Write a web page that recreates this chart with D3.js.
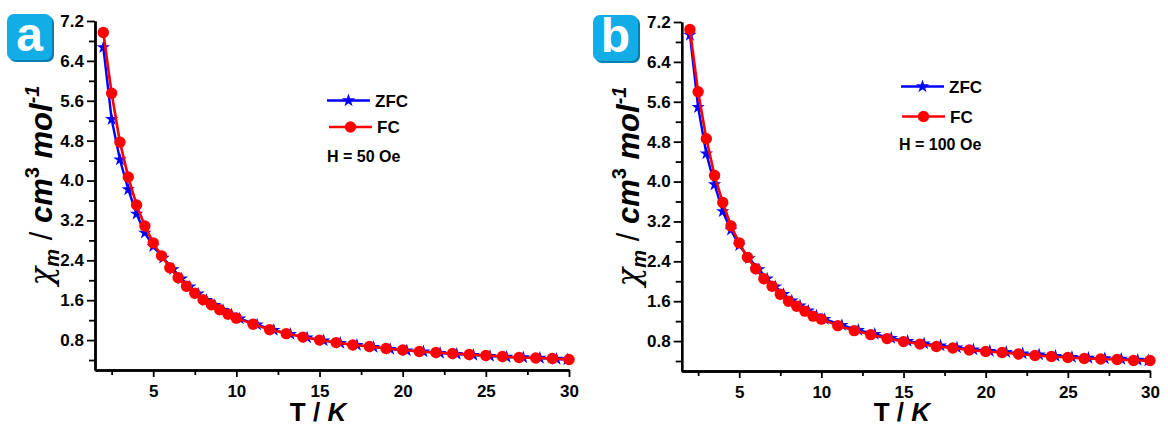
<!DOCTYPE html>
<html><head><meta charset="utf-8">
<script src="https://cdn.jsdelivr.net/npm/d3@7"></script>
<style>
html,body{margin:0;padding:0;background:#fff;}
svg{display:block;font-family:"Liberation Sans",Arial,sans-serif;}
.tick text{font-weight:bold;font-size:17px;fill:#000;}
</style></head><body>
<svg id="c" width="1168" height="426"></svg>
<script>
// ---- data ----
const temps = [2,2.5,3,3.5,4,4.5,5,5.5,6,6.5,7,7.5,8,8.5,9,9.5,10,11,12,13,14,15,16,17,18,19,20,21,22,23,24,25,26,27,28,29,30];
const tempsZFC = [2,2.5,3,3.5,4,4.5,5,5.6,6.2,6.7,7.2,7.7,8.2,8.7,9.2,9.7,10.2,11.25,12.25,13.25,14.25,15.25,16.25,17.25,18.25,19.25,20.25,21.25,22.25,23.25,24.25,25.25,26.25,27.25,28.25,29.25,29.9];
const fcA = [6.97,5.75,4.77,4.07,3.51,3.09,2.75,2.49,2.25,2.05,1.88,1.74,1.61,1.51,1.41,1.32,1.24,1.12,1.01,0.93,0.86,0.80,0.75,0.70,0.67,0.63,0.60,0.57,0.55,0.53,0.51,0.49,0.47,0.45,0.44,0.43,0.41];
const zfcA = [6.67,5.23,4.42,3.82,3.33,2.95,2.68,2.45,2.22,2.03,1.87,1.73,1.60,1.50,1.40,1.31,1.23,1.11,1.00,0.92,0.85,0.79,0.74,0.70,0.66,0.62,0.59,0.57,0.54,0.52,0.50,0.48,0.46,0.45,0.44,0.42,0.41];
const fcB = [7.05,5.80,4.86,4.12,3.58,3.11,2.77,2.48,2.25,2.05,1.90,1.74,1.60,1.50,1.40,1.30,1.24,1.11,1.01,0.93,0.85,0.79,0.74,0.69,0.66,0.62,0.59,0.57,0.54,0.51,0.49,0.47,0.45,0.44,0.43,0.41,0.41];
const zfcB = [6.94,5.49,4.56,3.94,3.40,3.03,2.72,2.46,2.24,2.05,1.89,1.74,1.61,1.51,1.41,1.31,1.24,1.12,1.02,0.94,0.86,0.80,0.75,0.71,0.67,0.63,0.60,0.58,0.55,0.53,0.50,0.48,0.46,0.45,0.44,0.42,0.41];
const xMajor = [5,10,15,20,25,30];
const xMinor = [2.5,7.5,12.5,17.5,22.5,27.5];
const yMajor = [0.8,1.6,2.4,3.2,4.0,4.8,5.6,6.4,7.2];
const yMinor = [0.4,1.2,2.0,2.8,3.6,4.4,5.2,6.0,6.8];
const seriesNames = ["ZFC","FC"];
const panels = [
  {label:"a", field:"H = 50 Oe", fc:fcA, zfc:zfcA, x0:95, x1:569, y0:370, y1:21, badge:[7,14], leg:[327,100.5], legFC:[329,127], fieldPos:[327,161.5]},
  {label:"b", field:"H = 100 Oe", fc:fcB, zfc:zfcB, x0:681.7, x1:1150, y0:371, y1:22, badge:[593,15], leg:[901,86.5], legFC:[902,116.5], fieldPos:[899,150]}
];
const blue = "#0000ff", red = "#ff0000";
const svg = d3.select("#c");
const star = d3.symbol().type(d3.symbolStar).size(55);

panels.forEach(p => {
  const g = svg.append("g");
  const x = d3.scaleLinear().domain([1.5,30]).range([p.x0,p.x1]);
  const y = d3.scaleLinear().domain([0.2,7.2]).range([p.y0,p.y1]);

  // axes
  g.append("g").attr("transform",`translate(0,${p.y0})`)
    .call(d3.axisBottom(x).tickValues(xMajor).tickSize(7).tickPadding(8).tickSizeOuter(0).tickFormat(d3.format("d")));
  g.append("g").attr("transform",`translate(0,${p.y0})`)
    .call(d3.axisBottom(x).tickValues(xMinor).tickSize(5).tickSizeOuter(0).tickFormat(""));
  g.append("g").attr("transform",`translate(${p.x0},0)`)
    .call(d3.axisLeft(y).tickValues(yMajor).tickSize(8).tickPadding(3).tickSizeOuter(0).tickFormat(d3.format(".1f")));
  g.append("g").attr("transform",`translate(${p.x0},0)`)
    .call(d3.axisLeft(y).tickValues(yMinor).tickSize(6).tickSizeOuter(0).tickFormat(""));
  g.selectAll(".domain").attr("stroke","#000").attr("stroke-width",2.4);
  g.selectAll(".tick line").attr("stroke","#000").attr("stroke-width",1.8);

  const zData = tempsZFC.map((t,i)=>[t,p.zfc[i]]);
  const fData = temps.map((t,i)=>[t,p.fc[i]]);
  const line = d3.line().x(d=>x(d[0])).y(d=>y(d[1]));
  // ZFC
  g.append("path").datum(zData).attr("d",line).attr("fill","none").attr("stroke",blue).attr("stroke-width",2.4);
  g.selectAll(".st").data(zData).enter().append("path")
    .attr("d",star).attr("transform",d=>`translate(${x(d[0])},${y(d[1])})`).attr("fill",blue);
  // FC
  g.append("path").datum(fData).attr("d",line).attr("fill","none").attr("stroke",red).attr("stroke-width",2.6);
  g.selectAll(".ci").data(fData).enter().append("circle")
    .attr("cx",d=>x(d[0])).attr("cy",d=>y(d[1])).attr("r",5.7).attr("fill",red);

  // axis titles
  const xt = g.append("text").attr("x",(p.x0+p.x1)/2 - 14).attr("y",421).attr("text-anchor","middle")
    .attr("font-size",26).attr("font-weight","bold");
  xt.append("tspan").text("T / ");
  xt.append("tspan").attr("font-style","italic").text("K");

  const yt = g.append("text").attr("transform",`translate(${p.x0-43},${(p.y0+p.y1)/2 - 10}) rotate(-90)`)
    .attr("text-anchor","middle").attr("font-size",31).attr("font-weight","bold");
  yt.append("tspan").attr("font-style","italic").attr("font-weight","normal").attr("font-family","'DejaVu Serif',serif").text("χ");
  yt.append("tspan").attr("font-style","italic").attr("font-size",20).attr("dy",7).text("m");
  yt.append("tspan").attr("dy",-7).attr("font-weight","normal").text(" / ");
  yt.append("tspan").attr("font-style","italic").text("cm");
  yt.append("tspan").attr("font-size",20).attr("dy",-13).text("3");
  yt.append("tspan").attr("font-style","italic").attr("dy",13).text(" mol");
  yt.append("tspan").attr("font-style","italic").attr("font-size",20).attr("dy",-13).text("-1");

  // badge
  const [bx,by] = p.badge;
  svg.append("rect").attr("x",bx+2).attr("y",by+2).attr("width",45).attr("height",46).attr("rx",7).attr("fill","#0a7fae");
  svg.append("rect").attr("x",bx).attr("y",by).attr("width",45).attr("height",46).attr("rx",7).attr("fill","#12ace6");
  svg.append("text").attr("x",bx+22.5).attr("y",by+37).attr("text-anchor","middle")
    .attr("font-size",48).attr("font-weight","bold").attr("fill","#fff").text(p.label);

  // legend
  const legs = [{name:seriesNames[0],pos:p.leg,color:blue,sym:"star"},{name:seriesNames[1],pos:p.legFC,color:red,sym:"circle"}];
  legs.forEach(l=>{
    const [lx,ly]=l.pos;
    svg.append("line").attr("x1",lx).attr("x2",lx+43).attr("y1",ly).attr("y2",ly).attr("stroke",l.color).attr("stroke-width",2.4);
    if(l.sym==="star") svg.append("path").attr("d",star).attr("transform",`translate(${lx+21.5},${ly})`).attr("fill",l.color);
    else svg.append("circle").attr("cx",lx+21.5).attr("cy",ly).attr("r",5.7).attr("fill",l.color);
    svg.append("text").attr("x",lx+48).attr("y",ly+6).attr("font-size",17).attr("font-weight","bold").text(l.name);
  });
  svg.append("text").attr("x",p.fieldPos[0]).attr("y",p.fieldPos[1]).attr("font-size",16).attr("font-weight","bold").text(p.field);
});
</script></body></html>
